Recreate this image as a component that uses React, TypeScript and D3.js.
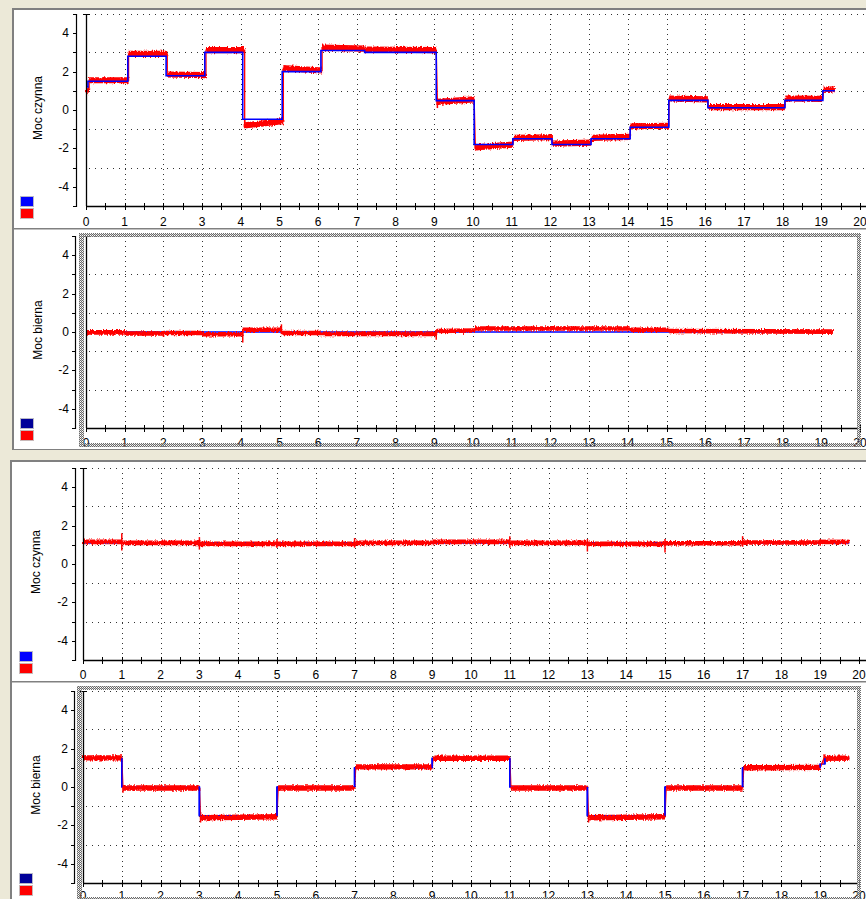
import React from "react";
import * as d3 from "d3";

const W = 866;
const H = 899;

// ---------- shared axis labels ----------
const xTickLabels = ["0","1","2","3","4","5","6","7","8","9","10","11","12","13","14","15","16","17","18","19","20"];
const xMinorTickValues = [0,0.5,1,1.5,2,2.5,3,3.5,4,4.5,5,5.5,6,6.5,7,7.5,8,8.5,9,9.5,10,10.5,11,11.5,12,12.5,13,13.5,14,14.5,15,15.5,16,16.5,17,17.5,18,18.5,19,19.5,20];
const xGridValues = [1,2,3,4,5,6,7,8,9,10,11,12,13,14,15,16,17,18,19];
const yTickValues = [4, 2, 0, -2, -4];
const yTickLabels = ["4", "2", "0", "-2", "-4"];
const yMinorTickValues = [5,4,3,2,1,0,-1,-2,-3,-4,-5];
const yGridValues = [5, 3, 1, -1, -3];

// ---------- Panel 1 : Moc czynna ----------
const p1BlueX = [0, 0.05, 1.08, 2.07, 3.07, 4.05, 5.07, 6.07, 7.2, 9.05, 10.03, 11.03, 12.04, 13.05, 14.06, 15.06, 16.07, 18.06, 19.04, 19.35];
const p1BlueY = [1.2, 1.5, 2.8, 1.78, 3.0, -0.48, 2.0, 3.1, 3.0, 0.49, -1.8, -1.5, -1.8, -1.5, -0.9, 0.5, 0.12, 0.5, 1.0];
const p1RedStart = [0, 0.08, 1.1, 2.1, 3.1, 4.1, 5.1, 6.1, 7.2, 9.08, 10.06, 11.06, 12.06, 13.07, 14.07, 15.07, 16.08, 18.07, 19.06];
const p1RedEnd = [0.08, 1.1, 2.1, 3.1, 4.1, 5.1, 6.1, 7.2, 9.05, 10.03, 11.03, 12.04, 13.05, 14.06, 15.06, 16.07, 18.06, 19.04, 19.35];
const p1RedY0 = [0.9, 1.55, 2.92, 1.85, 3.12, -0.8, 2.18, 3.25, 3.15, 0.42, -1.95, -1.45, -1.75, -1.45, -0.85, 0.6, 0.15, 0.6, 1.05];
const p1RedY1 = [1.1, 1.55, 2.92, 1.82, 3.12, -0.58, 2.06, 3.2, 3.12, 0.55, -1.8, -1.42, -1.7, -1.4, -0.82, 0.55, 0.15, 0.58, 1.08];
const p1SpikeX = [4.1, 9.08, 10.06];
const p1SpikeLo = [-0.95, 0.1, -2.05];
const p1SpikeHi = [-0.5, 0.6, -1.7];

// ---------- Panel 2 : Moc bierna ----------
const p2BlueX = [0, 19.3];
const p2BlueY = [0];
const p2RedStart = [0, 1.0, 2.0, 3.0, 4.05, 5.05, 6.05, 9.05, 10.05, 14.05, 15.05];
const p2RedEnd = [1.0, 2.0, 3.0, 4.05, 5.05, 6.05, 9.05, 10.05, 14.05, 15.05, 19.3];
const p2RedY0 = [-0.02, -0.08, -0.05, -0.12, 0.12, -0.05, -0.1, 0.05, 0.18, 0.12, 0.05];
const p2RedY1 = [-0.02, -0.08, -0.05, -0.12, 0.12, -0.05, -0.1, 0.08, 0.18, 0.12, 0.02];
const p2SpikeX = [2.0, 4.05, 5.05, 9.05];
const p2SpikeLo = [-0.25, -0.55, -0.1, -0.4];
const p2SpikeHi = [0.05, 0.15, 0.4, 0.1];

// ---------- Panel 3 : Moc czynna ----------
const p3BlueX = [0, 19.75];
const p3BlueY = [1.1];
const p3RedStart = [0, 1, 3, 7, 9, 11, 13, 15, 17, 19];
const p3RedEnd = [1, 3, 7, 9, 11, 13, 15, 17, 19, 19.75];
const p3RedY0 = [1.15, 1.1, 1.05, 1.1, 1.15, 1.1, 1.05, 1.08, 1.12, 1.15];
const p3RedY1 = [1.15, 1.1, 1.05, 1.1, 1.15, 1.1, 1.05, 1.08, 1.12, 1.15];
const p3SpikeX = [1, 3, 5, 7, 11, 13, 15, 17, 19];
const p3SpikeLo = [0.7, 0.75, 0.85, 0.85, 0.85, 0.65, 0.6, 0.9, 0.95];
const p3SpikeHi = [1.6, 1.4, 1.3, 1.35, 1.45, 1.3, 1.3, 1.45, 1.3];

// ---------- Panel 4 : Moc bierna ----------
const p4BlueX = [0, 1, 3, 5, 7, 9, 11, 13, 15, 17, 19, 19.12, 19.75];
const p4BlueY = [1.5, 0, -1.5, 0, 1.0, 1.5, 0, -1.5, 0, 1.0, 1.2, 1.5];
const p4RedStart = [0, 1.03, 3.03, 5.03, 7.03, 9.03, 11.03, 13.03, 15.03, 17.03, 19.1];
const p4RedEnd = [1.0, 3.0, 5.0, 7.0, 9.0, 11.0, 13.0, 15.0, 17.0, 19.0, 19.75];
const p4RedY0 = [1.52, -0.05, -1.6, -0.05, 1.05, 1.5, -0.05, -1.6, -0.05, 1.0, 1.5];
const p4RedY1 = [1.52, -0.05, -1.55, -0.05, 1.05, 1.5, -0.05, -1.55, -0.05, 1.02, 1.5];
const p4SpikeX = [1.03, 3.03, 13.03, 19.1];
const p4SpikeLo = [-0.3, -1.85, -1.85, 1.2];
const p4SpikeHi = [0.1, -1.3, -1.3, 1.7];

const BEIGE = "#ECE9D8";
const FONT = "'Liberation Sans', Arial, sans-serif";

type PanelProps = {
  id: string;
  x0: number;
  xLen: number;
  xEnd: number;
  yZero: number;
  bracketX: number;
  labelRight: number;
  xLabelBaseline: number;
  title: string;
  titleX: number;
  legendX: number;
  legendY: number;
  legendBlue: string;
  blueX: number[];
  blueY: number[];
  redStart: number[];
  redEnd: number[];
  redY0: number[];
  redY1: number[];
  spikeX: number[];
  spikeLo: number[];
  spikeHi: number[];
  amp: number;
  blueOnTop: boolean;
  blueStepsOnTop?: boolean;
  hatch?: { left: number; top: number; right: number; bottom: number };
};

function Panel(p: PanelProps) {
  const x = d3.scaleLinear().domain([0, 20]).range([p.x0, p.x0 + p.xLen]);
  const y = d3.scaleLinear().domain([-5, 5]).range([p.yZero + 96, p.yZero - 96]);
  const yTop = y(5);
  const yBot = y(-5);

  const bluePts: [number, number][] = p.blueX.map((v, i) => [v, p.blueY[Math.min(i, p.blueY.length - 1)]]);
  const blueLine = d3
    .line<[number, number]>()
    .x((d) => x(d[0]))
    .y((d) => y(d[1]))
    .curve(d3.curveStepAfter)(bluePts) || "";

  const area = d3
    .area<{ x: number; y: number }>()
    .x((d) => x(d.x))
    .y0((d) => y(d.y - p.amp))
    .y1((d) => y(d.y + p.amp));
  const bands = p.redStart.map((s, i) =>
    area([
      { x: s, y: p.redY0[i] },
      { x: p.redEnd[i], y: p.redY1[i] },
    ]) || ""
  );
  const redPts: [number, number][] = [];
  p.redStart.forEach((s, i) => {
    redPts.push([s, p.redY0[i]]);
    redPts.push([p.redEnd[i], p.redY1[i]]);
  });
  const redLine = d3
    .line<[number, number]>()
    .x((d) => x(d[0]))
    .y((d) => y(d[1]))(redPts) || "";

  const blueEl = <path d={blueLine} fill="none" stroke="#0000FF" strokeWidth={1.6} />;
  const blueSteps = p.blueX.slice(1, p.blueY.length).map((v, i) => (
    <line
      key={"bs" + i}
      x1={x(v)}
      x2={x(v)}
      y1={y(p.blueY[i])}
      y2={y(p.blueY[i + 1])}
      stroke="#0000FF"
      strokeWidth={1.6}
    />
  ));

  return (
    <g>
      {yGridValues.map((v) => (
        <line
          key={"gh" + v}
          x1={p.x0 + 3}
          x2={p.xEnd}
          y1={Math.round(y(v)) + 0.5}
          y2={Math.round(y(v)) + 0.5}
          stroke="#333"
          strokeWidth={1}
          strokeDasharray="1 5"
        />
      ))}
      {xGridValues.map((v) => (
        <line
          key={"gv" + v}
          x1={Math.round(x(v)) + 0.5}
          x2={Math.round(x(v)) + 0.5}
          y1={yTop}
          y2={yBot}
          stroke="#333"
          strokeWidth={1}
          strokeDasharray="1 4"
        />
      ))}
      {!p.blueOnTop && blueEl}
      <g filter={`url(#rough-${p.id})`}>
        {bands.map((d, i) => (
          <path key={"b" + i} d={d} fill="#FF0000" />
        ))}
      </g>
      <path d={redLine} fill="none" stroke="#FF0000" strokeWidth={1.3} />
      {p.spikeX.map((s, i) => (
        <line
          key={"s" + i}
          x1={x(s)}
          x2={x(s)}
          y1={y(p.spikeLo[i])}
          y2={y(p.spikeHi[i])}
          stroke="#FF0000"
          strokeWidth={1.5}
        />
      ))}
      {p.blueOnTop && blueEl}
      {p.blueStepsOnTop && blueSteps}

      <line x1={p.x0 + 0.5} x2={p.x0 + 0.5} y1={yTop} y2={yBot} stroke="#000" strokeWidth={1.3} />
      <line x1={p.x0 - 3} x2={p.x0 + 4} y1={yTop + 0.5} y2={yTop + 0.5} stroke="#000" strokeWidth={1} />
      <line x1={p.x0} x2={p.xEnd} y1={Math.round(yBot) + 0.5} y2={Math.round(yBot) + 0.5} stroke="#000" strokeWidth={1.3} />
      {xMinorTickValues.map((v) => (
        <line
          key={"xt" + v}
          x1={Math.round(x(v)) + 0.5}
          x2={Math.round(x(v)) + 0.5}
          y1={yBot - 3}
          y2={yBot + 4}
          stroke="#000"
          strokeWidth={1}
        />
      ))}
      {xTickLabels.map((t, i) => (
        <text
          key={"xl" + t}
          x={x(i)}
          y={p.xLabelBaseline}
          textAnchor="middle"
          fontFamily={FONT}
          fontSize={12}
          fill="#000"
        >
          {t}
        </text>
      ))}
      <line x1={p.bracketX + 0.5} x2={p.bracketX + 0.5} y1={yTop} y2={yBot + 1} stroke="#000" strokeWidth={1.2} />
      {yMinorTickValues.map((v) => (
        <line
          key={"yt" + v}
          x1={p.bracketX - 3}
          x2={p.bracketX + 1}
          y1={Math.round(y(v)) + 0.5}
          y2={Math.round(y(v)) + 0.5}
          stroke="#000"
          strokeWidth={1}
        />
      ))}
      {yTickValues.map((v, i) => (
        <text
          key={"yl" + v}
          x={p.labelRight}
          y={y(v) + 4}
          textAnchor="end"
          fontFamily={FONT}
          fontSize={12}
          fill="#000"
        >
          {yTickLabels[i]}
        </text>
      ))}
      <text
        transform={`translate(${p.titleX},${p.yZero - 2}) rotate(-90)`}
        textAnchor="middle"
        fontFamily={FONT}
        fontSize={12}
        fill="#000"
      >
        {p.title}
      </text>
      <rect x={p.legendX + 0.5} y={p.legendY + 0.5} width={13} height={10} fill={p.legendBlue} stroke="#b8b8c8" strokeWidth={1} />
      <rect x={p.legendX + 0.5} y={p.legendY + 12.5} width={13} height={10} fill="#FF0000" stroke="#c8b8b8" strokeWidth={1} />
      {p.hatch && (
        <g fill="url(#hatchPat)">
          <rect x={p.hatch.left} y={p.hatch.top} width={p.hatch.right - p.hatch.left} height={4} />
          <rect x={p.hatch.left} y={p.hatch.top} width={5} height={p.hatch.bottom - p.hatch.top} />
          <rect x={p.hatch.right - 4} y={p.hatch.top} width={4} height={p.hatch.bottom - p.hatch.top} />
          <rect x={p.hatch.left} y={p.hatch.bottom - 4} width={p.hatch.right - p.hatch.left} height={4} />
        </g>
      )}
    </g>
  );
}

export default function App() {
  return (
    <svg
      width={W}
      height={H}
      viewBox={`0 0 ${W} ${H}`}
      style={{ position: "absolute", left: 0, top: 0, display: "block" }}
    >
      <defs>
        <pattern id="hatchPat" width={2} height={2} patternUnits="userSpaceOnUse">
          <rect x={0} y={0} width={1} height={1} fill="#6a6a6a" />
          <rect x={1} y={1} width={1} height={1} fill="#6a6a6a" />
          <rect x={1} y={0} width={1} height={1} fill="#b4b4b4" fillOpacity={0.7} />
        </pattern>
        {["p1", "p2", "p3", "p4"].map((id, i) => (
          <filter key={id} id={`rough-${id}`} filterUnits="userSpaceOnUse" x={0} y={0} width={W} height={H}>
            <feTurbulence type="fractalNoise" baseFrequency="0.9 0.35" numOctaves={2} seed={i + 3} result="n" />
            <feDisplacementMap in="SourceGraphic" in2="n" scale={4} xChannelSelector="R" yChannelSelector="G" />
          </filter>
        ))}
      </defs>
      <rect x={0} y={0} width={W} height={H} fill={BEIGE} />

      <rect x={12} y={8} width={W - 12} height={442} fill="#808080" />
      <rect x={14} y={10} width={W - 14} height={218} fill="#fff" />
      <rect x={14} y={228} width={W - 14} height={1} fill="#808080" />
      <rect x={14} y={229} width={W - 14} height={1} fill="#c0c0c0" />
      <rect x={14} y={230} width={W - 14} height={219} fill="#fff" />

      <rect x={10} y={460} width={W - 10} height={H - 460} fill="#808080" />
      <rect x={12} y={462} width={W - 12} height={219} fill="#fff" />
      <rect x={12} y={681} width={W - 12} height={1} fill="#808080" />
      <rect x={12} y={682} width={W - 12} height={1} fill="#c0c0c0" />
      <rect x={12} y={683} width={W - 12} height={H - 683} fill="#fff" />

      <Panel
        id="p1"
        x0={86}
        xLen={774}
        xEnd={W}
        yZero={110}
        bracketX={76}
        labelRight={69}
        xLabelBaseline={226}
        title="Moc czynna"
        titleX={42}
        legendX={20}
        legendY={196}
        legendBlue="#0000FF"
        blueX={p1BlueX}
        blueY={p1BlueY}
        redStart={p1RedStart}
        redEnd={p1RedEnd}
        redY0={p1RedY0}
        redY1={p1RedY1}
        spikeX={p1SpikeX}
        spikeLo={p1SpikeLo}
        spikeHi={p1SpikeHi}
        amp={0.16}
        blueOnTop={true}
      />
      <Panel
        id="p2"
        x0={86}
        xLen={774}
        xEnd={858}
        yZero={332}
        bracketX={75}
        labelRight={69}
        xLabelBaseline={447}
        title="Moc bierna"
        titleX={42}
        legendX={20}
        legendY={418}
        legendBlue="#000099"
        blueX={p2BlueX}
        blueY={p2BlueY}
        redStart={p2RedStart}
        redEnd={p2RedEnd}
        redY0={p2RedY0}
        redY1={p2RedY1}
        spikeX={p2SpikeX}
        spikeLo={p2SpikeLo}
        spikeHi={p2SpikeHi}
        amp={0.12}
        blueOnTop={false}
        hatch={{ left: 79, top: 233, right: 861, bottom: 447 }}
      />
      <Panel
        id="p3"
        x0={83}
        xLen={776}
        xEnd={W}
        yZero={564}
        bracketX={75}
        labelRight={68}
        xLabelBaseline={679}
        title="Moc czynna"
        titleX={40}
        legendX={19}
        legendY={651}
        legendBlue="#0000FF"
        blueX={p3BlueX}
        blueY={p3BlueY}
        redStart={p3RedStart}
        redEnd={p3RedEnd}
        redY0={p3RedY0}
        redY1={p3RedY1}
        spikeX={p3SpikeX}
        spikeLo={p3SpikeLo}
        spikeHi={p3SpikeHi}
        amp={0.12}
        blueOnTop={false}
      />
      <Panel
        id="p4"
        x0={83}
        xLen={776}
        xEnd={858}
        yZero={787}
        bracketX={74}
        labelRight={68}
        xLabelBaseline={900}
        title="Moc bierna"
        titleX={40}
        legendX={19}
        legendY={873}
        legendBlue="#000099"
        blueX={p4BlueX}
        blueY={p4BlueY}
        redStart={p4RedStart}
        redEnd={p4RedEnd}
        redY0={p4RedY0}
        redY1={p4RedY1}
        spikeX={p4SpikeX}
        spikeLo={p4SpikeLo}
        spikeHi={p4SpikeHi}
        amp={0.14}
        blueOnTop={false}
        blueStepsOnTop={true}
        hatch={{ left: 77, top: 686, right: 861, bottom: 901 }}
      />
    </svg>
  );
}
